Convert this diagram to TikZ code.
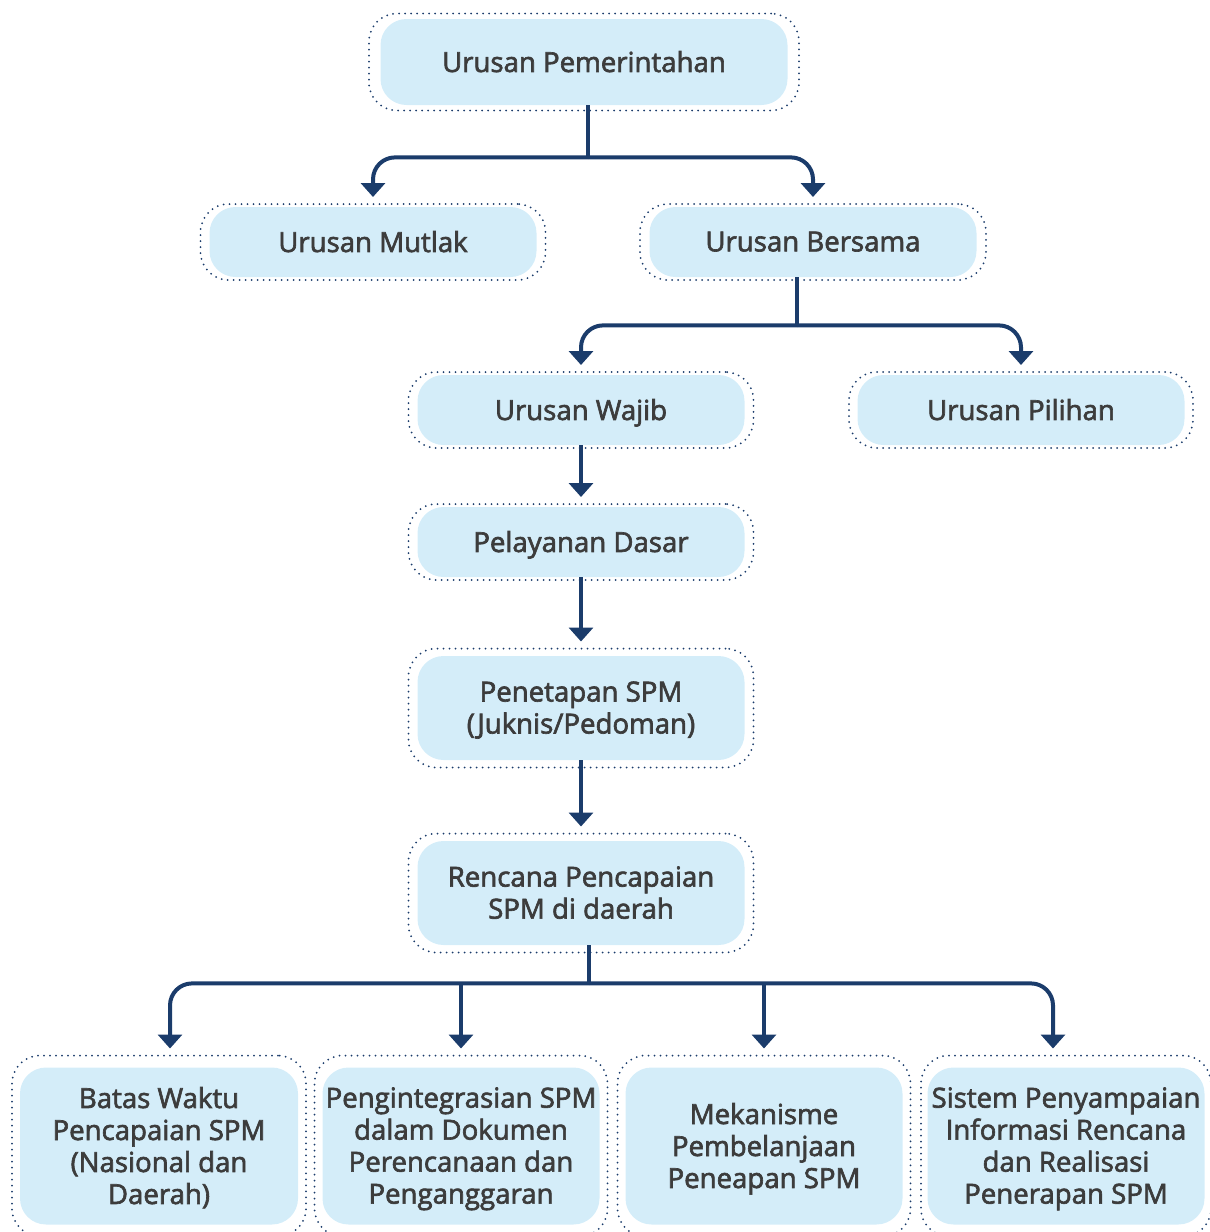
\documentclass[tikz,border=0pt]{standalone}
\usepackage{fontspec}
\setmainfont{Open Sans}
\usetikzlibrary{arrows.meta,calc}
\definecolor{navy}{HTML}{1B3C6B}
\definecolor{boxfill}{HTML}{D4EDF9}
\definecolor{txt}{HTML}{3C3C3C}
\newcommand\emb{\special{pdf:literal direct 2 Tr 0.32 w}}
\newcommand\bx[8]{%
  \node[outerbox, minimum width=#6*0.5pt, minimum height=#7*0.5pt] (#1o) at (#2,#3) {};
  \node[innerbox, minimum width=#4*0.5pt, minimum height=#5*0.5pt] (#1) at (#2,#3) {\emb #8};}
\begin{document}
\begin{tikzpicture}[x=0.5pt,y=-0.5pt,
  outerbox/.style={draw=navy, line width=1pt, dash pattern=on 0pt off 3pt, line cap=round, rounded corners=14pt, inner sep=0pt},
  innerbox/.style={fill=boxfill, rounded corners=13pt, text=txt, align=center, font=\fontsize{13.8}{16}\selectfont, inner sep=0pt, text depth=0.5pt},
  conn/.style={draw=navy, line width=2pt},
  arr/.style={conn, -{Triangle[width=12pt,length=7pt]}, rounded corners=11pt, shorten >=3pt}]
\useasboundingbox (0,0) rectangle (1210,1232);
\bx{pem}{584}{62}{407}{86}{430}{97}{Urusan Pemerintahan}
\bx{mut}{373}{242}{327}{70}{345}{76}{Urusan Mutlak}
\bx{ber}{813}{242}{327}{70}{346}{76}{Urusan Bersama}
\bx{waj}{581}{410}{327}{70}{345}{76}{Urusan Wajib}
\bx{pil}{1021}{410}{327}{70}{344}{76}{Urusan Pilihan}
\bx{pel}{581}{542}{327}{70}{345}{76}{Pelayanan Dasar}
\bx{pen}{581}{708}{327}{104}{345}{119}{Penetapan SPM\\(Juknis/Pedoman)}
\bx{ren}{581}{893}{327}{104}{345}{119}{Rencana Pencapaian\\SPM di daerah}
\bx{bA}{159}{1146}{278}{157}{294}{181}{Batas Waktu\\Pencapaian SPM\\(Nasional dan\\Daerah)}
\bx{bB}{461}{1146}{277}{157}{293}{181}{Pengintegrasian SPM\\dalam Dokumen\\Perencanaan dan\\Penganggaran}
\bx{bC}{764}{1146}{277}{157}{293}{181}{Mekanisme\\Pembelanjaan\\Peneapan SPM}
\bx{bD}{1066}{1146}{277}{157}{290}{181}{Sistem Penyampaian\\Informasi Rencana\\dan Realisasi\\Penerapan SPM}
% connectors
\draw[conn] ($(pem.south)+(4,0)$) -- ++(0,52) coordinate (j1);
\draw[arr] (j1) -| (muto.north);
\draw[arr] (j1) -| (bero.north);
\draw[conn] ($(ber.south)+(-16,0)$) -- ++(0,48) coordinate (j2);
\draw[arr] (j2) -| (wajo.north);
\draw[arr] (j2) -| (pilo.north);
\draw[arr] (waj.south) -- (pelo.north);
\draw[arr] (pel.south) -- (peno.north);
\draw[arr] (pen.south) -- (reno.north);
\draw[conn] ($(ren.south)+(8,0)$) -- ++(0,38) coordinate (j3);
\coordinate (tA) at ($(bAo.north)+(11,0)$);
\coordinate (tD) at ($(bDo.north)+(-13,0)$);
\draw[arr] (j3) -| (tA);
\draw[arr] (j3) -| (tD);
\draw[arr] (j3 -| bBo.north) -- (bBo.north);
\draw[arr] (j3 -| bCo.north) -- (bCo.north);
\end{tikzpicture}
\end{document}
